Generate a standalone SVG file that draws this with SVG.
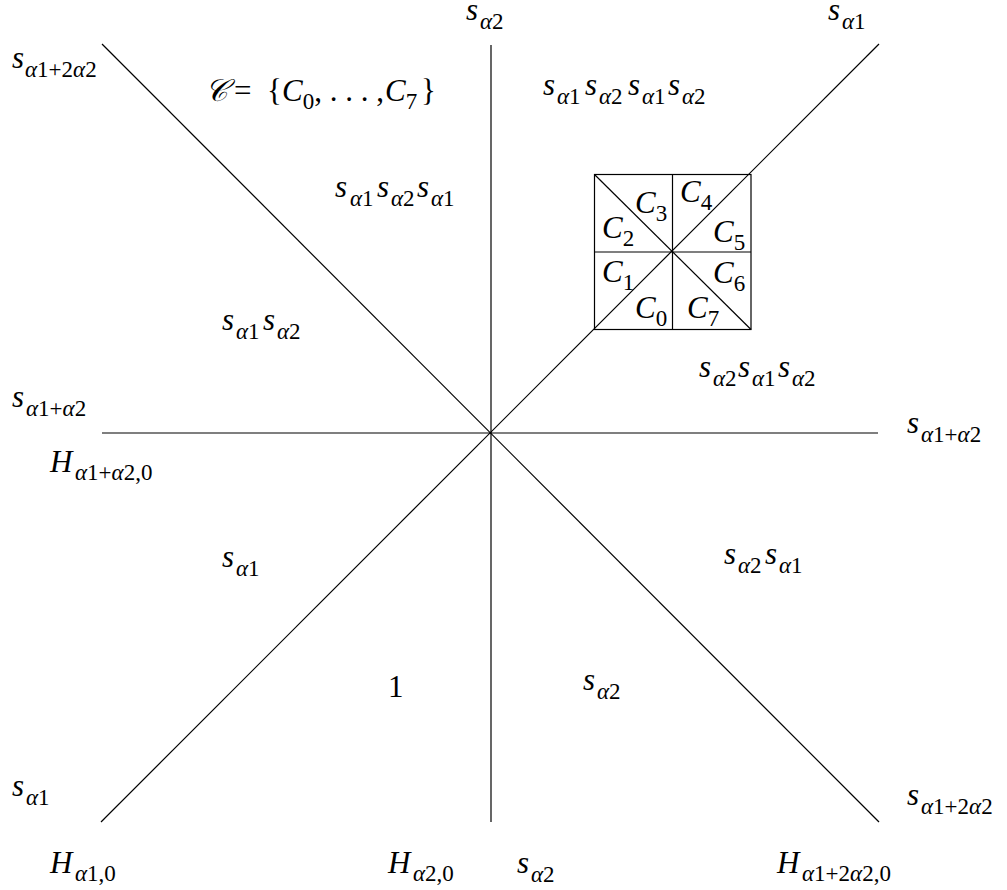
<svg xmlns="http://www.w3.org/2000/svg" width="1007" height="890" viewBox="0 0 1007 890">
<style>
text{font-family:"Liberation Serif","DejaVu Serif",serif;font-size:31px;font-style:italic;fill:#000}
.sb{font-size:23px}
.u{font-style:normal}
line{stroke:#000;stroke-width:1.2}
</style>
<rect width="1007" height="890" fill="#fff"/>
<g id="connectors">
<line x1="491" y1="45" x2="491" y2="822"/>
<line x1="102" y1="433" x2="878" y2="433"/>
<line x1="102" y1="44" x2="879" y2="822"/>
<line x1="101" y1="822" x2="879" y2="44"/>
</g>
<g id="chambers">
<rect x="594.5" y="174.5" width="156.5" height="155" fill="none" stroke="#000" stroke-width="1.2"/>
<line x1="672.5" y1="174.5" x2="672.5" y2="329.5"/>
<line x1="594.5" y1="252" x2="751" y2="252"/>
<line x1="594.5" y1="174.5" x2="751" y2="329.5"/>
<text x="635" y="213">C<tspan class="sb u" dy="8">3</tspan></text>
<text x="680" y="202">C<tspan class="sb u" dy="8">4</tspan></text>
<text x="602" y="238">C<tspan class="sb u" dy="8">2</tspan></text>
<text x="713" y="242">C<tspan class="sb u" dy="8">5</tspan></text>
<text x="602" y="282">C<tspan class="sb u" dy="8">1</tspan></text>
<text x="713" y="283">C<tspan class="sb u" dy="8">6</tspan></text>
<text x="635" y="318">C<tspan class="sb u" dy="8">0</tspan></text>
<text x="687" y="318">C<tspan class="sb u" dy="8">7</tspan></text>
</g>
<g id="set-label">
<text x="205" y="101">𝒞</text>
<text x="234" y="101" class="u">=</text>
<text x="267" y="101" class="u">{</text>
<text x="282" y="101">C<tspan class="sb u" dy="8">0</tspan><tspan class="u" dy="-8">, . . . ,</tspan></text>
<text x="385" y="101">C<tspan class="sb u" dy="8">7</tspan></text>
<text x="421" y="101" class="u">}</text>
</g>
<g id="label-top-left">
<text x="12" y="68">s</text><text x="25" y="77" class="sb">α<tspan class="u">1+2</tspan>α<tspan class="u">2</tspan></text>
</g>
<g id="label-top">
<text x="466" y="20">s</text><text x="480" y="29" class="sb">α<tspan class="u">2</tspan></text>
</g>
<g id="label-top-right">
<text x="828" y="20">s</text><text x="842" y="29" class="sb">α<tspan class="u">1</tspan></text>
</g>
<g id="w-s1s2s1s2">
<text x="543" y="95">s</text><text x="557" y="104" class="sb">α<tspan class="u">1</tspan></text>
<text x="585" y="95">s</text><text x="599" y="104" class="sb">α<tspan class="u">2</tspan></text>
<text x="628" y="95">s</text><text x="642" y="104" class="sb">α<tspan class="u">1</tspan></text>
<text x="668" y="95">s</text><text x="682" y="104" class="sb">α<tspan class="u">2</tspan></text>
</g>
<g id="w-s1s2s1">
<text x="335" y="197">s</text><text x="350" y="206" class="sb">α<tspan class="u">1</tspan></text>
<text x="377" y="197">s</text><text x="391" y="206" class="sb">α<tspan class="u">2</tspan></text>
<text x="417" y="197">s</text><text x="431" y="206" class="sb">α<tspan class="u">1</tspan></text>
</g>
<g id="w-s1s2">
<text x="222" y="330">s</text><text x="236" y="339" class="sb">α<tspan class="u">1</tspan></text>
<text x="263" y="330">s</text><text x="277" y="339" class="sb">α<tspan class="u">2</tspan></text>
</g>
<g id="w-s2s1s2">
<text x="699" y="377">s</text><text x="713" y="386" class="sb">α<tspan class="u">2</tspan></text>
<text x="738" y="377">s</text><text x="752" y="386" class="sb">α<tspan class="u">1</tspan></text>
<text x="778" y="377">s</text><text x="792" y="386" class="sb">α<tspan class="u">2</tspan></text>
</g>
<g id="label-left">
<text x="12" y="407">s</text><text x="26" y="416" class="sb">α<tspan class="u">1+</tspan>α<tspan class="u">2</tspan></text>
</g>
<g id="H-a1a2">
<text x="50" y="472">H</text><text x="75" y="480" class="sb">α<tspan class="u">1+</tspan>α<tspan class="u">2,0</tspan></text>
</g>
<g id="label-right">
<text x="907" y="433">s</text><text x="921" y="442" class="sb">α<tspan class="u">1+</tspan>α<tspan class="u">2</tspan></text>
</g>
<g id="w-s1">
<text x="222" y="567">s</text><text x="236" y="576" class="sb">α<tspan class="u">1</tspan></text>
</g>
<g id="w-s2s1">
<text x="724" y="564">s</text><text x="738" y="573" class="sb">α<tspan class="u">2</tspan></text>
<text x="765" y="564">s</text><text x="779" y="573" class="sb">α<tspan class="u">1</tspan></text>
</g>
<g id="w-1">
<text x="388" y="697" class="u">1</text>
</g>
<g id="w-s2">
<text x="583" y="690">s</text><text x="597" y="699" class="sb">α<tspan class="u">2</tspan></text>
</g>
<g id="label-bottom-left">
<text x="12" y="796">s</text><text x="26" y="805" class="sb">α<tspan class="u">1</tspan></text>
</g>
<g id="H-a1">
<text x="50" y="873">H</text><text x="75" y="881" class="sb">α<tspan class="u">1,0</tspan></text>
</g>
<g id="H-a2">
<text x="388" y="873">H</text><text x="413" y="881" class="sb">α<tspan class="u">2,0</tspan></text>
</g>
<g id="label-bottom">
<text x="517" y="873">s</text><text x="531" y="882" class="sb">α<tspan class="u">2</tspan></text>
</g>
<g id="H-a1a2a2">
<text x="777" y="873">H</text><text x="802" y="881" class="sb">α<tspan class="u">1+2</tspan>α<tspan class="u">2,0</tspan></text>
</g>
<g id="label-bottom-right">
<text x="907" y="805">s</text><text x="921" y="814" class="sb">α<tspan class="u">1+2</tspan>α<tspan class="u">2</tspan></text>
</g>
</svg>
